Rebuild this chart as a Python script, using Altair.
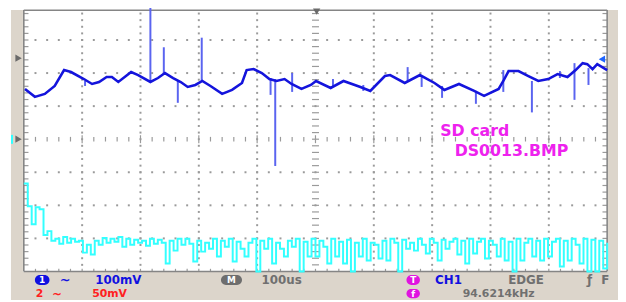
import altair as alt
import numpy as np
import pandas as pd

# ---------------- data (time in microseconds, level in screen divisions) ----------------
ch1_t = [2, 19, 36, 53, 69, 81, 103, 117, 129, 142, 151, 162, 184, 196, 217, 230, 242, 256,
         269, 281, 294, 306, 320, 340, 357, 374, 382, 394, 408, 421, 433, 447, 459, 476, 492,
         501, 526, 548, 577, 594, 619, 628, 653, 679, 704, 721, 746, 772, 789, 814, 822, 831,
         848, 865, 882, 899, 915, 932, 946, 958, 966, 975, 983, 1000]
ch1_v = [5.52, 5.28, 5.37, 5.61, 6.09, 6.03, 5.82, 5.67, 5.73, 5.88, 5.88, 5.73, 6.03, 5.94,
         5.73, 5.85, 6.00, 5.85, 5.73, 5.58, 5.64, 5.76, 5.61, 5.37, 5.49, 5.70, 6.09, 6.12,
         6.00, 5.82, 5.76, 5.82, 5.67, 5.52, 5.64, 5.76, 5.55, 5.76, 5.58, 5.46, 5.91, 5.94,
         5.70, 5.94, 5.70, 5.49, 5.67, 5.46, 5.31, 5.52, 5.76, 6.06, 6.06, 5.91, 5.76, 5.82,
         5.97, 5.88, 6.09, 6.30, 6.27, 6.12, 6.27, 6.09]

spike_t = [105, 217, 240, 264, 305, 423, 431, 460, 530, 582, 658, 682, 717, 775, 822, 871, 919, 944, 968]
spike_a = [5.76, 5.73, 5.97, 5.76, 5.76, 5.85, 5.82, 6.00, 5.82, 5.64, 5.76, 5.91, 5.61, 5.46, 6.09, 5.76, 6.06, 6.30, 6.15]
spike_b = [5.61, 8.00, 6.78, 5.10, 7.07, 5.34, 3.19, 5.43, 5.58, 5.46, 6.18, 5.58, 5.25, 5.07, 5.43, 4.81, 5.85, 5.19, 5.64]

ch2_v = [2.66, 1.97, 1.43, 1.94, 1.88, 1.10, 1.22, 0.93, 0.99, 0.84,
         1.04, 0.87, 0.99, 0.90, 0.93, 0.57, 0.81, 0.51, 0.93, 0.81,
         1.01, 0.87, 0.99, 0.90, 1.04, 0.75, 0.99, 0.81, 0.96, 0.87,
         0.93, 0.78, 0.99, 0.84, 0.96, 0.87, 0.24, 0.93, 0.63, 0.99,
         0.81, 0.99, 0.84, 0.30, 0.93, 0.60, 0.87, 0.69, 0.99, 0.45,
         0.93, 0.75, 0.99, 0.30, 0.90, 0.69, 0.45, 0.87, 0.99, 0.00,
         0.93, 0.69, 0.99, 0.24, 0.87, 0.69, 0.45, 0.93, 0.75, 0.99,
         0.00, 0.90, 0.45, 0.99, 0.45, 0.93, 0.75, 0.24, 0.99, 0.45,
         0.90, 0.24, 0.96, 0.00, 0.87, 0.45, 0.99, 0.33, 0.87, 0.81,
         0.39, 0.93, 0.33, 0.99, 0.87, 0.00, 0.96, 0.69, 0.87, 0.63,
         0.99, 0.81, 0.54, 0.99, 0.87, 0.33, 0.96, 0.69, 0.90, 0.99,
         0.51, 0.93, 0.24, 0.99, 0.54, 0.90, 0.99, 0.39, 0.93, 0.81,
         0.45, 0.99, 0.33, 0.90, 0.00, 0.99, 0.33, 0.87, 0.99, 0.45,
         0.93, 0.33, 0.99, 0.45, 0.90, 0.99, 0.15, 0.93, 0.33, 0.99,
         0.81, 0.24, 0.99, 0.00, 0.96, 0.00, 0.93, 0.09, 0.87]
ch2_t = np.linspace(0, 1000, len(ch2_v))

status_text = ["~", "100mV", "100us", "CH1", "EDGE", "ƒ", "F", "2", "~", "50mV", "94.6214kHz"]
status_x = [71, 162, 442, 728, 861, 970, 997, 27, 57, 147, 814]
status_y = [-0.26, -0.26, -0.26, -0.26, -0.26, -0.26, -0.26, -0.67, -0.67, -0.67, -0.67]
status_c = ["#1010e0", "#1010e0", "#707070", "#1010e0", "#707070", "#707070", "#707070",
            "#ff2020", "#ff2020", "#ff2020", "#707070"]
status_s = [13, 12, 12, 12, 12, 12, 12, 11, 12, 11, 11]

icon_glyph = ["1", "M", "T", "f"]
icon_x0 = [19, 338, 656, 656]
icon_x1 = [44, 374, 679, 679]
icon_y0 = [-0.11, -0.11, -0.11, -0.53]
icon_y1 = [-0.41, -0.41, -0.41, -0.81]
icon_c = ["#1010e0", "#6e6e6e", "#e014e0", "#e014e0"]

label_text = ["SD card", "DS0013.BMP"]
label_x = [773, 836]
label_y = [4.24, 3.64]

# ---------------- scales ----------------
X_DOM = [-27.1, 1018.6]
Y_DOM = [-0.866, 7.910]
xs = alt.Scale(domain=X_DOM, nice=False, zero=False)
ys = alt.Scale(domain=Y_DOM, nice=False, zero=False)


def X(f):
    return alt.X(f, type="quantitative", scale=xs, axis=None)


def Y(f):
    return alt.Y(f, type="quantitative", scale=ys, axis=None)


BEIGE = "#dcd5cb"
GRID = "#9a9a9a"

# frame
frame = pd.DataFrame({
    "x0": [-22.0, -22.0, 1001.5], "x1": [-1.5, 1018.6, 1018.6],
    "y0": [7.91, -0.02, 7.91], "y1": [-0.866, -0.866, -0.866]})
frame_layer = alt.Chart(frame).mark_rect(color=BEIGE).encode(
    x=X("x0"), x2="x1", y=Y("y0"), y2="y1")

# grid dots
dots = []
for k in range(1, 10):
    if k == 5:
        continue
    for yv in np.arange(0.2, 8.0, 0.2):
        dots.append((k * 100.0, yv))
for j in range(1, 8):
    if j == 4:
        continue
    for xv in np.arange(20, 1000, 20):
        dots.append((xv, float(j)))
dots_df = pd.DataFrame(dots, columns=["x", "y"])
dots_layer = alt.Chart(dots_df).mark_square(size=4, color=GRID, opacity=1).encode(
    x=X("x"), y=Y("y"))

# ticks (rules)
ticks = []
for yv in np.arange(0.2, 7.9, 0.2):
    ticks.append((494.0, 506.0, yv, yv))       # centre vertical line
    ticks.append((0.0, 8.0, yv, yv))           # left border
    ticks.append((992.0, 1000.0, yv, yv))      # right border
for xv in np.arange(20, 1000, 20):
    major = abs(xv / 100 - round(xv / 100)) < 1e-6
    h = 0.12 if major else 0.07
    ticks.append((xv, xv, 4 - h, 4 + h))       # centre horizontal line
    ticks.append((xv, xv, 0.0, 0.08))          # bottom border
ticks_df = pd.DataFrame(ticks, columns=["x0", "x1", "y0", "y1"])
ticks_layer = alt.Chart(ticks_df).mark_rule(color=GRID, strokeWidth=1.2).encode(
    x=X("x0"), x2="x1", y=Y("y0"), y2="y1")

# borders
border_df = pd.DataFrame({
    "x0": [0, 1000, 0, 0], "x1": [0, 1000, 1000, 1000],
    "y0": [0, 0, 0, 7.90], "y1": [7.91, 7.91, 0, 7.90]})
border_layer = alt.Chart(border_df).mark_rule(color="#858585", strokeWidth=1.6).encode(
    x=X("x0"), x2="x1", y=Y("y0"), y2="y1")

# traces
ch2_df = pd.DataFrame({"t": ch2_t, "v": ch2_v})
ch2_layer = alt.Chart(ch2_df).mark_line(color="#33ffff", strokeWidth=2,
                                         interpolate="step-after").encode(x=X("t"), y=Y("v"))

spk_df = pd.DataFrame({"t": spike_t, "a": spike_a, "b": spike_b})
spk_layer = alt.Chart(spk_df).mark_rule(color="#5a64f0", strokeWidth=2).encode(
    x=X("t"), y=Y("a"), y2="b")

ch1_df = pd.DataFrame({"t": ch1_t, "v": ch1_v})
ch1_layer = alt.Chart(ch1_df).mark_line(color="#1414dc", strokeWidth=2.6).encode(
    x=X("t"), y=Y("v"))

# markers
mk = pd.DataFrame({
    "x": [-9.0, -9.0, 502.0, 991.0],
    "y": [6.45, 4.0, 7.86, 6.42],
    "shape": ["triangle-right", "triangle-right", "triangle-down", "triangle-left"],
    "c": ["#6a6a6a", "#6a6a6a", "#6a6a6a", "#1e64ff"]})
mk_layer = alt.Chart(mk).mark_point(filled=True, size=55, opacity=1).encode(
    x=X("x"), y=Y("y"), shape=alt.Shape("shape:N", scale=None),
    color=alt.Color("c:N", scale=None))
cy_df = pd.DataFrame({"x0": [-22.0], "x1": [-18.5], "y0": [4.13], "y1": [3.86]})
cy_layer = alt.Chart(cy_df).mark_rect(color="#33ffff").encode(
    x=X("x0"), x2="x1", y=Y("y0"), y2="y1")

# labels
lab_df = pd.DataFrame({"t": label_text, "x": label_x, "y": label_y})
lab_layer = alt.Chart(lab_df).mark_text(font="DejaVu Sans", fontSize=16, fontWeight="bold",
                                         color="#ee22ee", baseline="middle", align="center").encode(
    x=X("x"), y=Y("y"), text="t:N")

# status bar
st_df = pd.DataFrame({"t": status_text, "x": status_x, "y": status_y, "c": status_c, "s": status_s})
st_layer = alt.Chart(st_df).mark_text(font="DejaVu Sans", fontWeight="bold",
                                       baseline="middle", align="center").encode(
    x=X("x"), y=Y("y"), text="t:N", color=alt.Color("c:N", scale=None),
    size=alt.Size("s:Q", scale=None))

ic_df = pd.DataFrame({"g": icon_glyph, "x0": icon_x0, "x1": icon_x1, "y0": icon_y0,
                      "y1": icon_y1, "c": icon_c})
ic_df["xm"] = (ic_df["x0"] + ic_df["x1"]) / 2
ic_df["ym"] = (ic_df["y0"] + ic_df["y1"]) / 2
ic_rect = alt.Chart(ic_df).mark_rect(cornerRadius=5).encode(
    x=X("x0"), x2="x1", y=Y("y0"), y2="y1", color=alt.Color("c:N", scale=None))
ic_text = alt.Chart(ic_df).mark_text(font="DejaVu Sans", fontSize=9, fontWeight="bold",
                                      color="white", baseline="middle", align="center").encode(
    x=X("xm"), y=Y("ym"), text="g:N")

chart = alt.layer(
    frame_layer, dots_layer, ticks_layer, border_layer, ch2_layer, spk_layer, ch1_layer,
    mk_layer, cy_layer, lab_layer, st_layer, ic_rect, ic_text
).properties(
    width=618, height=294, padding=0,
    autosize=alt.AutoSizeParams(type="none"), background="white"
).configure_view(stroke=None)

chart.save("out.html", embed_options={"renderer": "svg", "actions": False})
